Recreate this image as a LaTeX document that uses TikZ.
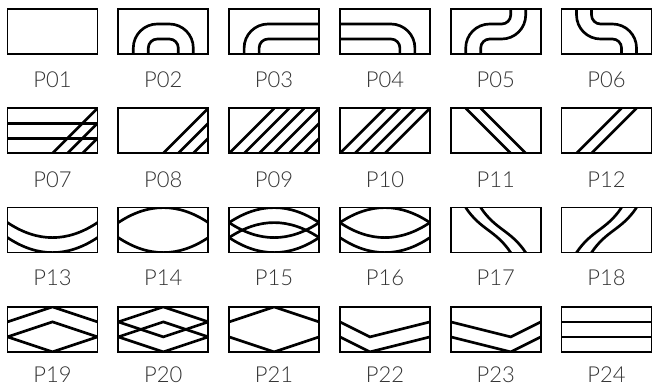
\documentclass[tikz,border=0pt]{standalone}
\usepackage{fontspec}
\newfontfamily\tagfont{Lato Light}
\usetikzlibrary{calc}

\begin{document}
\begin{tikzpicture}[x=11.25pt, y=11.25pt,
  tile/.style={draw, line width=1.3pt, minimum width=67.5pt, minimum height=33.75pt, inner sep=0pt, outer sep=0pt, anchor=south west},
  tag/.style={anchor=base, inner sep=0pt, text=black!80, font=\tagfont\fontsize{16.5}{18}\selectfont},
  hatch/.style={line width=2pt},
  wide bend/.style={rounded corners=18pt},
  tight bend/.style={rounded corners=6.75pt}
]
  \useasboundingbox (0,0) rectangle (43.467,25.8);

  % tiles and their names
  \foreach \r/\yy/\dy in {0/22.2/25, 1/15.58/25.5, 2/8.96/25, 3/2.34/23.2}
    \foreach \c in {0,...,5} {
      \pgfmathtruncatemacro\n{6*\r+\c+1}
      \node[tile] (p\n) at ({0.5+7.387*\c},\yy) {};
      \node[tag] (l\n) at ([yshift=-\dy pt]p\n.south) {P\ifnum\n<10 0\fi\n};
    }

  % P02
  \begin{scope}[shift={(p2.south west)}]
    \clip (0,0) rectangle (6,3);
    \draw[hatch, wide bend] (1,0) -- (1,2) -- (5,2) -- (5,0);
    \draw[hatch, tight bend] (2,0) -- (2,1) -- (4,1) -- (4,0);
  \end{scope}
  % P03
  \begin{scope}[shift={(p3.south west)}]
    \clip (0,0) rectangle (6,3);
    \draw[hatch, wide bend] (1,0) -- (1,2) -- (6,2);
    \draw[hatch, tight bend] (2,0) -- (2,1) -- (6,1);
  \end{scope}
  % P04
  \begin{scope}[shift={(p4.south west)}]
    \clip (0,0) rectangle (6,3);
    \draw[hatch, wide bend] (0,2) -- (5,2) -- (5,0);
    \draw[hatch, tight bend] (0,1) -- (4,1) -- (4,0);
  \end{scope}
  % P05
  \begin{scope}[shift={(p5.south west)}]
    \clip (0,0) rectangle (6,3);
    \draw[hatch] (1,0) -- (1,0.4) arc[start angle=180, end angle=90, radius=1.6]
      -- (3.4,2) arc[start angle=-90, end angle=0, radius=0.6] -- (4,3);
    \draw[hatch] (2,0) -- (2,0.4) arc[start angle=180, end angle=90, radius=0.6]
      -- (3.4,1) arc[start angle=-90, end angle=0, radius=1.6] -- (5,3);
  \end{scope}
  % P06
  \begin{scope}[shift={(p6.south west)}]
    \clip (0,0) rectangle (6,3);
    \draw[hatch] (1,3) -- (1,2.6) arc[start angle=180, end angle=270, radius=1.6]
      -- (3.4,1) arc[start angle=90, end angle=0, radius=0.6] -- (4,0);
    \draw[hatch] (2,3) -- (2,2.6) arc[start angle=180, end angle=270, radius=0.6]
      -- (3.4,2) arc[start angle=90, end angle=0, radius=1.6] -- (5,0);
  \end{scope}

  % P07
  \begin{scope}[shift={(p7.south west)}]
    \clip (0,0) rectangle (6,3);
    \draw[hatch] (0,1) -- (6,1) (0,2) -- (6,2);
    \foreach \s in {3,4,5} \draw[hatch] (\s,0) -- ++(3,3);
  \end{scope}
  % P08
  \begin{scope}[shift={(p8.south west)}]
    \clip (0,0) rectangle (6,3);
    \foreach \s in {3,4,5} \draw[hatch] (\s,0) -- ++(3,3);
  \end{scope}
  % P09
  \begin{scope}[shift={(p9.south west)}]
    \clip (0,0) rectangle (6,3);
    \foreach \s in {0,...,5} \draw[hatch] (\s,0) -- ++(3,3);
  \end{scope}
  % P10
  \begin{scope}[shift={(p10.south west)}]
    \clip (0,0) rectangle (6,3);
    \foreach \s in {0,...,3} \draw[hatch] (\s,0) -- ++(3,3);
  \end{scope}
  % P11
  \begin{scope}[shift={(p11.south west)}]
    \clip (0,0) rectangle (6,3);
    \draw[hatch] (1,3) -- (4,0) (2,3) -- (5,0);
  \end{scope}
  % P12
  \begin{scope}[shift={(p12.south west)}]
    \clip (0,0) rectangle (6,3);
    \draw[hatch] (1,0) -- (4,3) (2,0) -- (5,3);
  \end{scope}

  % P13
  \begin{scope}[shift={(p13.south west)}]
    \clip (0,0) rectangle (6,3);
    \draw[hatch] (0,2) .. controls (2,0.667) and (4,0.667) .. (6,2);
    \draw[hatch] (0,1) .. controls (2,-0.333) and (4,-0.333) .. (6,1);
  \end{scope}
  % P14
  \begin{scope}[shift={(p14.south west)}]
    \clip (0,0) rectangle (6,3);
    \draw[hatch] (0,2) .. controls (2,3.333) and (4,3.333) .. (6,2);
    \draw[hatch] (0,1) .. controls (2,-0.333) and (4,-0.333) .. (6,1);
  \end{scope}
  % P15
  \begin{scope}[shift={(p15.south west)}]
    \clip (0,0) rectangle (6,3);
    \draw[hatch] (0,2) .. controls (2,3.333) and (4,3.333) .. (6,2);
    \draw[hatch] (0,1) .. controls (2,2.333) and (4,2.333) .. (6,1);
    \draw[hatch] (0,2) .. controls (2,0.667) and (4,0.667) .. (6,2);
    \draw[hatch] (0,1) .. controls (2,-0.333) and (4,-0.333) .. (6,1);
  \end{scope}
  % P16
  \begin{scope}[shift={(p16.south west)}]
    \clip (0,0) rectangle (6,3);
    \draw[hatch] (0,2) .. controls (2,3.333) and (4,3.333) .. (6,2);
    \draw[hatch] (0,2) .. controls (2,0.667) and (4,0.667) .. (6,2);
    \draw[hatch] (0,1) .. controls (2,-0.333) and (4,-0.333) .. (6,1);
  \end{scope}
  % P17
  \begin{scope}[shift={(p17.south west)}]
    \clip (0,0) rectangle (6,3);
    \draw[hatch] (1,3) .. controls (2,1.5) and (3,1.5) .. (4,0);
    \draw[hatch] (2,3) .. controls (3,1.5) and (4,1.5) .. (5,0);
  \end{scope}
  % P18
  \begin{scope}[shift={(p18.south west)}]
    \clip (0,0) rectangle (6,3);
    \draw[hatch] (1,0) .. controls (2,1.5) and (3,1.5) .. (4,3);
    \draw[hatch] (2,0) .. controls (3,1.5) and (4,1.5) .. (5,3);
  \end{scope}

  % P19
  \begin{scope}[shift={(p19.south west)}]
    \clip (0,0) rectangle (6,3);
    \draw[hatch] (0,2) -- (3,3) -- (6,2);
    \draw[hatch] (0,1) -- (3,2) -- (6,1);
    \draw[hatch] (0,1) -- (3,0) -- (6,1);
  \end{scope}
  % P20
  \begin{scope}[shift={(p20.south west)}]
    \clip (0,0) rectangle (6,3);
    \draw[hatch] (0,2) -- (3,3) -- (6,2);
    \draw[hatch] (0,2) -- (3,1) -- (6,2);
    \draw[hatch] (0,1) -- (3,2) -- (6,1);
    \draw[hatch] (0,1) -- (3,0) -- (6,1);
  \end{scope}
  % P21
  \begin{scope}[shift={(p21.south west)}]
    \clip (0,0) rectangle (6,3);
    \draw[hatch] (0,2) -- (3,3) -- (6,2);
    \draw[hatch] (0,1) -- (3,0) -- (6,1);
  \end{scope}
  % P22
  \begin{scope}[shift={(p22.south west)}]
    \clip (0,0) rectangle (6,3);
    \draw[hatch] (0,2) -- (2,1) -- (6,2);
    \draw[hatch] (0,1) -- (2,0) -- (6,1);
  \end{scope}
  % P23
  \begin{scope}[shift={(p23.south west)}]
    \clip (0,0) rectangle (6,3);
    \draw[hatch] (0,2) -- (4,1) -- (6,2);
    \draw[hatch] (0,1) -- (4,0) -- (6,1);
  \end{scope}
  % P24
  \begin{scope}[shift={(p24.south west)}]
    \clip (0,0) rectangle (6,3);
    \draw[hatch] (0,1) -- (6,1) (0,2) -- (6,2);
  \end{scope}
\end{tikzpicture}
\end{document}
